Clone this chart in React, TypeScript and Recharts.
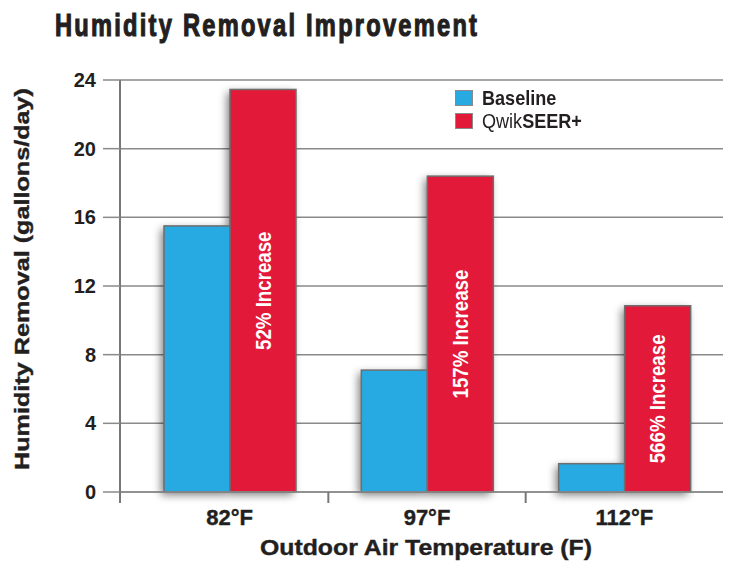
import React from 'react';
import { BarChart, Bar, XAxis, YAxis, CartesianGrid, Legend, LabelList } from 'recharts';

const categories = ['82°F', '97°F', '112°F'];
const baselineValues = [15.5, 7.1, 1.65];
const qwikValues = [23.45, 18.4, 10.85];
const increaseLabels = ['52% Increase', '157% Increase', '566% Increase'];
const yTicks = [0, 4, 8, 12, 16, 20, 24];

const data = categories.map((c, i) => ({
  category: c,
  baseline: baselineValues[i],
  qwik: qwikValues[i],
  increase: increaseLabels[i],
}));

const BLUE = '#27a9e1';
const RED = '#e3193a';
const GRID = '#8a8a8a';
const AXIS = '#777777';
const BAR_STROKE = '#6e6e6e';
const TEXT = '#231f20';
const FONT = "'Liberation Sans', Arial, sans-serif";
const X_PAD = 11;

const ShadowFilter = () => (
  <defs>
    <filter id="barShadow" filterUnits="userSpaceOnUse" x="0" y="0" width="729" height="565">
      <feGaussianBlur in="SourceAlpha" stdDeviation="4" />
      <feOffset dx="-3" dy="3" result="off" />
      <feComponentTransfer>
        <feFuncA type="linear" slope="0.5" />
      </feComponentTransfer>
    </filter>
  </defs>
);

const BaselineShape = (props: any) => {
  const { x, y, width, height, payload } = props;
  const bottom = y + height;
  const pairH = payload.baseline > 0 ? (height * payload.qwik) / payload.baseline : 0;
  return (
    <g>
      <ShadowFilter />
      <rect x={x} y={y} width={width} height={height} fill="#000" filter="url(#barShadow)" />
      <rect x={x + width} y={bottom - pairH} width={width} height={pairH} fill="#000" filter="url(#barShadow)" />
      <rect x={x} y={y} width={width} height={height} fill={BLUE} stroke={BAR_STROKE} strokeWidth={1.5} />
    </g>
  );
};

const QwikShape = (props: any) => {
  const { x, y, width, height } = props;
  return <rect x={x} y={y} width={width} height={height} fill={RED} stroke={BAR_STROKE} strokeWidth={1.5} />;
};

const IncreaseLabel = (props: any) => {
  const { x, y, width, height, value } = props;
  const cx = x + width / 2;
  const cy = y + height / 2;
  return (
    <g transform={`translate(${cx} ${cy}) rotate(-90) scale(0.85 1)`}>
      <text
        x={0}
        y={0}
        textAnchor="middle"
        dominantBaseline="central"
        fill="#ffffff"
        fontSize={22}
        fontWeight={700}
        fontFamily={FONT}
      >
        {value}
      </text>
    </g>
  );
};

const XTick = (props: any) => {
  const { x, y, payload, index } = props;
  const half = payload && payload.offset ? payload.offset : 0;
  const lineX = index === 0 ? x - half - X_PAD : x - half;
  return (
    <g>
      <line x1={lineX} x2={lineX} y1={y - 11} y2={y} stroke={AXIS} strokeWidth={2} />
      <text x={x} y={y + 22} textAnchor="middle" fill={TEXT} fontSize={22} fontWeight={700} fontFamily={FONT} stroke={TEXT} strokeWidth={0.4}>
        {payload.value}
      </text>
    </g>
  );
};

const LegendContent = (props: any) => {
  const items = props.payload || [];
  return (
    <div>
      {items.map((it: any) => {
        const name = String(it.value);
        const light = name.startsWith('Qwik') ? 'Qwik' : '';
        const rest = name.slice(light.length);
        return (
          <div key={name} style={{ display: 'flex', alignItems: 'center', height: 23 }}>
            <span style={{ display: 'inline-block', width: 16, height: 14, background: it.color, border: '1px solid #8a8a8a', marginRight: 9 }} />
            <span style={{ fontFamily: FONT, fontSize: 21, color: TEXT, lineHeight: '23px', display: 'inline-block', transform: 'scaleX(0.86)', transformOrigin: 'left center', whiteSpace: 'nowrap' }}>
              {light && <span style={{ fontWeight: 400 }}>{light}</span>}
              <span style={{ fontWeight: 700 }}>{rest}</span>
            </span>
          </div>
        );
      })}
    </div>
  );
};

const TITLE_SCALE = 0.74;

export default function App() {
  return (
    <div style={{ position: 'absolute', left: 0, top: 0, width: 729, height: 565, background: '#fff' }}>
      <BarChart
        width={729}
        height={565}
        data={data}
        margin={{ top: 80, right: 6, bottom: 43, left: 60 }}
        barSize={66}
        barGap={0}
      >
        <CartesianGrid vertical={false} stroke={GRID} strokeWidth={1.5} />
        <XAxis
          dataKey="category"
          height={30}
          padding={{ left: X_PAD, right: 0 }}
          tickLine={false}
          tickSize={11}
          tickMargin={0}
          interval={0}
          axisLine={{ stroke: GRID, strokeWidth: 1.5 }}
          tick={<XTick />}
        />
        <YAxis
          width={60}
          domain={[0, 24]}
          ticks={yTicks}
          interval={0}
          tickSize={17}
          tickMargin={7}
          tickLine={{ stroke: GRID, strokeWidth: 1.5 }}
          axisLine={{ stroke: AXIS, strokeWidth: 2 }}
          tick={{ fill: TEXT, fontSize: 20, fontWeight: 700, fontFamily: FONT }}
        />
        <Legend
          layout="vertical"
          align="center"
          verticalAlign="middle"
          wrapperStyle={{ left: 455, top: 86, width: 200 }}
          content={<LegendContent />}
        />
        <Bar dataKey="baseline" name="Baseline" fill={BLUE} shape={<BaselineShape />} isAnimationActive={false} />
        <Bar dataKey="qwik" name="QwikSEER+" fill={RED} shape={<QwikShape />} isAnimationActive={false}>
          <LabelList dataKey="increase" content={<IncreaseLabel />} />
        </Bar>
      </BarChart>
      <svg width={729} height={565} style={{ position: 'absolute', left: 0, top: 0, pointerEvents: 'none' }}>
        <g transform={`translate(55 36) scale(${TITLE_SCALE} 1)`}>
          <text x={0} y={0} fontSize={32} fontWeight={700} fontFamily={FONT} fill={TEXT} stroke={TEXT} strokeWidth={1.2} textLength={422 / TITLE_SCALE} lengthAdjust="spacing">
            Humidity Removal Improvement
          </text>
        </g>
        <text
          x={29}
          y={279}
          transform="rotate(-90 29 279)"
          textAnchor="middle"
          fontSize={21}
          fontWeight={700}
          fontFamily={FONT}
          fill={TEXT}
          stroke={TEXT}
          strokeWidth={0.4}
          textLength={382}
          lengthAdjust="spacingAndGlyphs"
        >
          Humidity Removal (gallons/day)
        </text>
        <text x={426} y={555} textAnchor="middle" fontSize={22} fontWeight={700} fontFamily={FONT} fill={TEXT} stroke={TEXT} strokeWidth={0.4} textLength={332} lengthAdjust="spacingAndGlyphs">
          Outdoor Air Temperature (F)
        </text>
      </svg>
    </div>
  );
}
